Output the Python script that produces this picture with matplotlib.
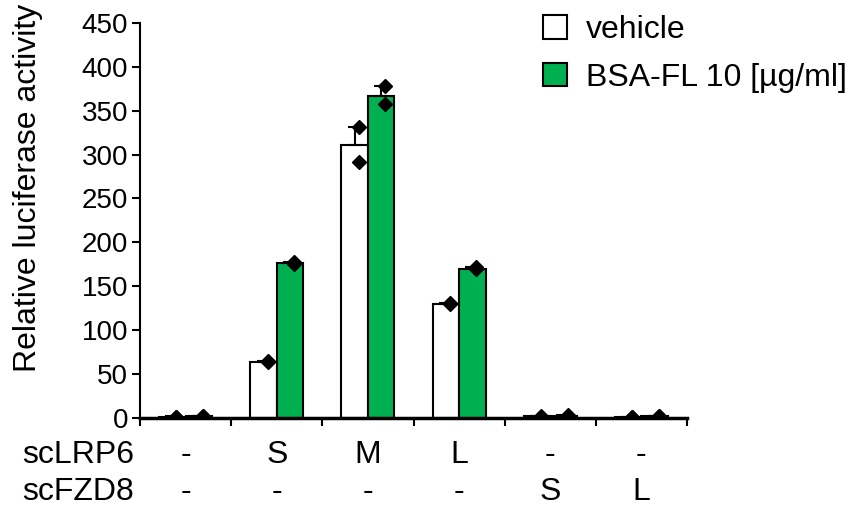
import numpy as np
import matplotlib.pyplot as plt

plt.rcParams['font.family'] = ['Liberation Sans', 'DejaVu Sans']

# data
vehicle = [1, 64, 311, 130, 1.5, 1]
bsa = [2, 176, 367, 170, 2.5, 2]
vehicle_err = [0.4, 1, 20, 1, 0.3, 0.3]
bsa_err = [0.4, 2, 11, 2, 0.5, 0.4]
vehicle_pts = [[0.8, 1.2], [64, 65], [331, 292], [130, 131], [1.3, 1.7], [0.8, 1.2]]
bsa_pts = [[1.8, 2.2], [175, 178], [378, 358], [169, 172], [2.2, 2.8], [1.8, 2.2]]
lrp6 = ['-', 'S', 'M', 'L', '-', '-']
fzd8 = ['-', '-', '-', '-', 'S', 'L']
yticks = [0, 50, 100, 150, 200, 250, 300, 350, 400, 450]

green = '#00B050'
w = 0.29
x = np.arange(len(vehicle)) + 0.5

fig = plt.figure(figsize=(8.48, 5.08), dpi=100)
ax = fig.add_axes([140 / 848, 1 - 417.7 / 508, 547 / 848, 394.7 / 508])

ax.bar(x - w / 2, vehicle, w, color='white', edgecolor='black', linewidth=1.5,
       label='vehicle', zorder=2)
ax.bar(x + w / 2, bsa, w, color=green, edgecolor='black', linewidth=1.5,
       label='BSA-FL 10 [µg/ml]', zorder=2)
ax.errorbar(x - w / 2, vehicle, yerr=[np.zeros(6), vehicle_err], fmt='none',
            ecolor='black', elinewidth=1.5, capsize=5, capthick=1.5, zorder=3)
ax.errorbar(x + w / 2, bsa, yerr=[np.zeros(6), bsa_err], fmt='none',
            ecolor='black', elinewidth=1.5, capsize=5, capthick=1.5, zorder=3)

for i in range(len(x)):
    for v in vehicle_pts[i]:
        ax.plot(x[i] - w / 2 + 0.045, v, 'D', color='black', markersize=7, zorder=4)
    for v in bsa_pts[i]:
        ax.plot(x[i] + w / 2 + 0.045, v, 'D', color='black', markersize=7, zorder=4)

ax.set_xlim(0, 6)
ax.set_ylim(0, 450)
ax.set_yticks(yticks)
ax.set_xticks(np.arange(7))
ax.set_xticklabels([])
ax.tick_params(axis='y', labelsize=20, length=6, width=1.5, pad=2.5)
ax.tick_params(axis='x', length=6, width=1.5, direction='out')
ax.spines['top'].set_visible(False)
ax.spines['right'].set_visible(False)
ax.spines['left'].set_linewidth(1.5)
ax.spines['bottom'].set_linewidth(2.5)
ax.spines['bottom'].set_zorder(5)

fig.text(28 / 848, 1 - 188 / 508, 'Relative luciferase activity', rotation=90,
         fontsize=23, ha='center', va='center')

# condition rows under the axis
row_y = [1 - 455 / 508, 1 - 492 / 508]
for ry, name, labs in zip(row_y, ['scLRP6', 'scFZD8'], [lrp6, fzd8]):
    fig.text(22 / 848, ry, name, fontsize=23, ha='left', va='center')
    for xi, lab in zip(x, labs):
        fx = (140 + xi * 547 / 6) / 848
        fig.text(fx, ry, lab, fontsize=23, ha='center', va='center')

ax.legend(loc='upper left', bbox_to_anchor=(543 / 848, 1 - 15 / 508), bbox_transform=fig.transFigure,
          frameon=False, fontsize=23, handlelength=0.75, handleheight=0.75,
          handletextpad=0.6, labelspacing=0.55, borderaxespad=0, borderpad=0)

fig.savefig('out.png', dpi=100)
